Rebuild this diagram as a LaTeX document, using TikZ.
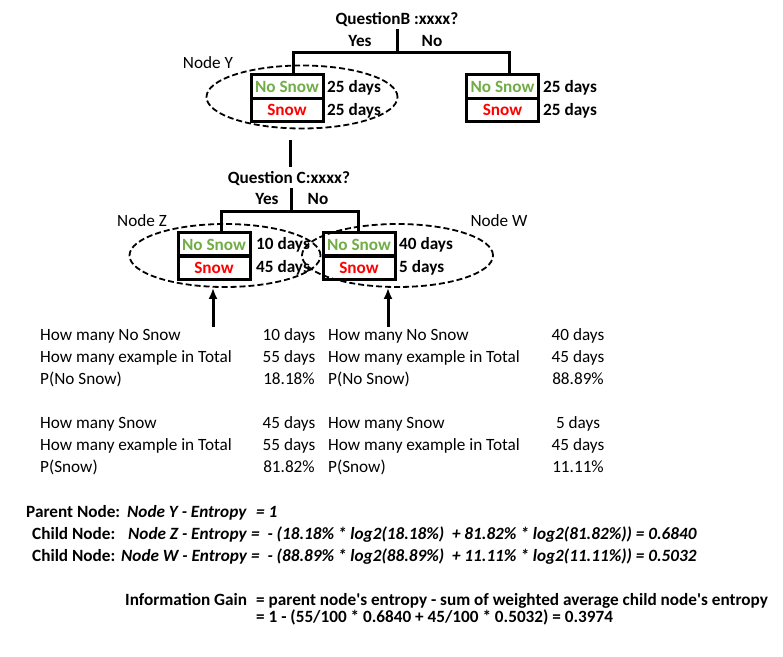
\documentclass[tikz,border=0pt]{standalone}
\usepackage{fontspec}
\setmainfont{Carlito}
\newfontfamily\calibri{Carlito}
\usetikzlibrary{arrows.meta,shapes.geometric}
\definecolor{snowgreen}{HTML}{70AD47}
\definecolor{snowred}{HTML}{FF0000}
\newcommand{\basesize}{\calibri\fontsize{17.2}{20.6}\selectfont}
\tikzstyle{txt} = [inner sep=0pt, text height=12pt, text depth=3.5pt, font=\basesize]
\tikzstyle{boldtxt} = [txt, font=\basesize\bfseries]
\tikzstyle{formula} = [txt, font=\basesize\bfseries\itshape]
\tikzstyle{snowcell} = [draw, line width=3pt, minimum width=72pt, minimum height=23.5pt, inner sep=0pt, font=\basesize\bfseries]
\tikzstyle{branch} = [line width=3pt]
\tikzstyle{ring} = [draw, dashed, dash pattern=on 6pt off 3pt, line width=1.8pt, ellipse, minimum width=191pt, minimum height=63pt, inner sep=0pt]
\tikzstyle{pointer} = [line width=3pt, -{Latex[length=11pt,width=9pt]}]

\begin{document}
\begin{tikzpicture}[x=1pt,y=-1pt]
		\useasboundingbox (0,0) rectangle (783,656);
		% first split
		\node[boldtxt] (qb) at (397,20) {QuestionB :xxxx?};
		\node[boldtxt] (yesb) at (360,42) {Yes};
		\node[boldtxt] (nob) at (432,42) {No};
		\node[snowcell, text=snowgreen] (ynosnow) at (287,86.5) {No Snow};
		\node[snowcell, text=snowred] (ysnow) at (287,110) {Snow};
		\node[boldtxt, anchor=west] (ydays1) at (327,88) {25 days};
		\node[boldtxt, anchor=west] (ydays2) at (327,111) {25 days};
		\node[snowcell, text=snowgreen] (nnosnow) at (502.5,86.5) {No Snow};
		\node[snowcell, text=snowred] (nsnow) at (502.5,110) {Snow};
		\node[boldtxt, anchor=west] (ndays1) at (543,88) {25 days};
		\node[boldtxt, anchor=west] (ndays2) at (543,111) {25 days};
		\node[ring] (ringY) at (302,97) {};
		\node[txt] (labY) at (208,64) {Node Y};
		\coordinate (splitb) at (397,52);
		\draw[branch] ([yshift=-1pt]qb.south) -- (splitb);
		\draw[branch] ([xshift=6pt]ynosnow.north) |- (splitb) -| ([xshift=6.5pt]nnosnow.north);
		% second split
		\node[boldtxt] (qc) at (289,179) {Question C:xxxx?};
		\coordinate (ylink) at (290,140);
		\draw[branch] (ylink) -- ([yshift=4pt]qc.north -| ylink);
		\node[boldtxt] (yesc) at (267,200) {Yes};
		\node[boldtxt] (noc) at (318,200) {No};
		\node[snowcell, text=snowgreen] (znosnow) at (214,244.5) {No Snow};
		\node[snowcell, text=snowred] (zsnow) at (214,267.5) {Snow};
		\node[boldtxt, anchor=west] (zdays1) at (256,245) {10 days};
		\node[boldtxt, anchor=west] (zdays2) at (256,268) {45 days};
		\node[snowcell, text=snowgreen] (wnosnow) at (359,244.5) {No Snow};
		\node[snowcell, text=snowred] (wsnow) at (359,267.5) {Snow};
		\node[boldtxt, anchor=west] (wdays1) at (399,245) {40 days};
		\node[boldtxt, anchor=west] (wdays2) at (399,268) {5 days};
		\node[ring] (ringZ) at (225,255.5) {};
		\node[ring] (ringW) at (397.5,255.5) {};
		\node[txt] (labZ) at (142,222) {Node Z};
		\node[txt] (labW) at (499,222) {Node W};
		\coordinate (splitc) at (291,211);
		\draw[branch] ([yshift=-1pt]qc.south -| splitc) -- (splitc);
		\draw[branch] ([xshift=7pt]znosnow.north) |- (splitc) -| ([xshift=-1pt]wnosnow.north);
		\coordinate (fromZ) at (213,327);
		\coordinate (fromW) at (388,327);
		\draw[pointer] (fromZ) -- (fromZ |- ringZ.south);
		\draw[pointer] (fromW) -- (fromW |- ringW.south);
		% counts
		\foreach \n/\yy/\what in {1/336/How many No Snow, 2/358/How many example in Total, 3/380/P(No Snow), 4/424/How many Snow, 5/446/How many example in Total, 6/468/P(Snow)}{
			\node[txt, anchor=west] (kz\n) at (40,\yy) {\what};
			\node[txt, anchor=west] (kw\n) at (328,\yy) {\what};
		}
		\foreach \n/\yy/\za/\wa in {1/336/10 days/40 days, 2/358/55 days/45 days, 3/380/18.18\%/88.89\%, 4/424/45 days/5 days, 5/446/55 days/45 days, 6/468/81.82\%/11.11\%}{
			\node[txt] (vz\n) at (289,\yy) {\za};
			\node[txt] (vw\n) at (578,\yy) {\wa};
		}
		% entropy
		\node[boldtxt, anchor=west] (parent) at (26,513) {Parent Node:};
		\node[formula, anchor=west] (entY) at (127,513) {Node Y - Entropy};
		\node[formula, anchor=west] (eqY) at (256,513) {= 1};
		\node[boldtxt, anchor=west] (childZ) at (32,535) {Child Node:};
		\node[formula, anchor=west] (entZ) at (128,535) {Node Z - Entropy};
		\node[formula, anchor=west] (eqZ) at (251,535) {= \ - (18.18\% * log2(18.18\%) \ + 81.82\% * log2(81.82\%)) = 0.6840};
		\node[boldtxt, anchor=west] (childW) at (32,557) {Child Node:};
		\node[formula, anchor=west] (entW) at (121,557) {Node W - Entropy};
		\node[formula, anchor=west] (eqW) at (251,557) {= \ - (88.89\% * log2(88.89\%) \ + 11.11\% * log2(11.11\%)) = 0.5032};
		\node[boldtxt, anchor=west] (gain) at (125,601) {Information Gain};
		\node[boldtxt, anchor=west] (gain1) at (256,601) {= parent node's entropy - sum of weighted average child node's entropy};
		\node[boldtxt, anchor=west] (gain2) at (256,618) {= 1 - (55/100 * 0.6840 + 45/100 * 0.5032) = 0.3974};
	\end{tikzpicture}
\end{document}
